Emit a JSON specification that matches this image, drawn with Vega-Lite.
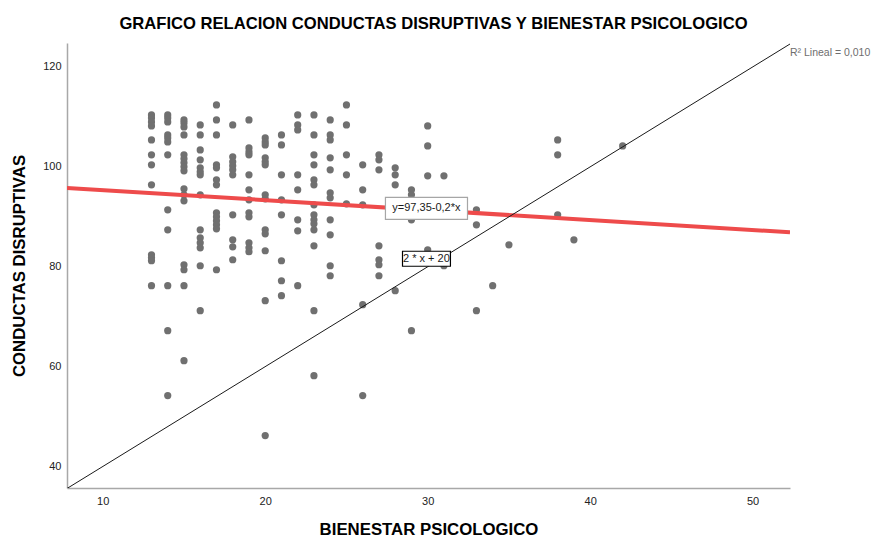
{
  "$schema": "https://vega.github.io/schema/vega-lite/v6.json",
  "autosize": {"type": "none"},
  "padding": {"left": 67, "top": 43, "right": 84, "bottom": 51},
  "width": 723,
  "height": 445,
  "background": "white",
  "config": {
    "view": {"stroke": null},
    "font": "Liberation Sans",
    "axis": {"grid": false, "ticks": false, "domainColor": "#a8a8a8", "domainWidth": 1.5, "labelFont": "Liberation Sans", "labelFontSize": 11, "labelColor": "#222222", "titleFont": "Liberation Sans", "titleFontSize": 16.8, "titleFontWeight": "bold", "titleColor": "#000000"}
  },
  "title": {"text": "GRAFICO RELACION CONDUCTAS DISRUPTIVAS Y BIENESTAR PSICOLOGICO", "font": "Liberation Sans", "fontSize": 16.6, "fontWeight": "bold", "color": "#000000", "anchor": "middle", "offset": 10, "dx": 5},
  "datasets": {
    "puntos": [
      {"x":13,"y":110.4},{"x":13,"y":109.8},{"x":13,"y":109},{"x":13,"y":108.2},{"x":13,"y":105.4},{"x":13,"y":102.4},{"x":13,"y":100.4},{"x":13,"y":96.4},{"x":13,"y":82.4},{"x":13,"y":81.8},{"x":13,"y":81.2},{"x":13,"y":76.2},
      {"x":14,"y":110.4},{"x":14,"y":109.8},{"x":14,"y":109},{"x":14,"y":106.4},{"x":14,"y":105.8},{"x":14,"y":105},{"x":14,"y":102.4},{"x":14,"y":91.4},{"x":14,"y":87.4},{"x":14,"y":76.2},{"x":14,"y":67.2},{"x":14,"y":54.2},
      {"x":15,"y":109.4},{"x":15,"y":108.8},{"x":15,"y":108},{"x":15,"y":106.4},{"x":15,"y":102.4},{"x":15,"y":101.6},{"x":15,"y":100.8},{"x":15,"y":100},{"x":15,"y":99.2},{"x":15,"y":95.6},{"x":15,"y":94.4},{"x":15,"y":93.2},{"x":15,"y":80.4},{"x":15,"y":79.4},{"x":15,"y":76.2},{"x":15,"y":61.2},
      {"x":16,"y":108.4},{"x":16,"y":106.4},{"x":16,"y":103.4},{"x":16,"y":101.4},{"x":16,"y":99.8},{"x":16,"y":99},{"x":16,"y":98.4},{"x":16,"y":94.4},{"x":16,"y":87.4},{"x":16,"y":85.8},{"x":16,"y":84.8},{"x":16,"y":83.8},{"x":16,"y":80.2},{"x":16,"y":71.2},
      {"x":17,"y":112.4},{"x":17,"y":109.4},{"x":17,"y":106.4},{"x":17,"y":100.4},{"x":17,"y":99.8},{"x":17,"y":97.4},{"x":17,"y":96.4},{"x":17,"y":90.8},{"x":17,"y":90},{"x":17,"y":89.2},{"x":17,"y":88.4},{"x":17,"y":87.6},{"x":17,"y":79.4},
      {"x":18,"y":108.4},{"x":18,"y":102},{"x":18,"y":101},{"x":18,"y":100.2},{"x":18,"y":99.4},{"x":18,"y":98.4},{"x":18,"y":90.4},{"x":18,"y":85.4},{"x":18,"y":84},{"x":18,"y":81.4},
      {"x":19,"y":109.4},{"x":19,"y":103.8},{"x":19,"y":103},{"x":19,"y":102.4},{"x":19,"y":98.4},{"x":19,"y":95.4},{"x":19,"y":93.4},{"x":19,"y":90.8},{"x":19,"y":90},{"x":19,"y":84.8},{"x":19,"y":83.8},{"x":19,"y":83},
      {"x":20,"y":105.8},{"x":20,"y":105},{"x":20,"y":104.4},{"x":20,"y":101.8},{"x":20,"y":101},{"x":20,"y":100.4},{"x":20,"y":94.4},{"x":20,"y":93.6},{"x":20,"y":87.4},{"x":20,"y":86.6},{"x":20,"y":83.2},{"x":20,"y":73.2},{"x":20,"y":46.2},
      {"x":21,"y":106.4},{"x":21,"y":104.4},{"x":21,"y":98.4},{"x":21,"y":93.4},{"x":21,"y":90.4},{"x":21,"y":81.2},{"x":21,"y":77.2},{"x":21,"y":74.2},
      {"x":22,"y":110.4},{"x":22,"y":108.4},{"x":22,"y":107.4},{"x":22,"y":98.4},{"x":22,"y":95.4},{"x":22,"y":89.4},{"x":22,"y":87.2},{"x":22,"y":76.2},
      {"x":23,"y":110.4},{"x":23,"y":106.4},{"x":23,"y":102.4},{"x":23,"y":100.4},{"x":23,"y":97.4},{"x":23,"y":96.4},{"x":23,"y":92.4},{"x":23,"y":90.4},{"x":23,"y":89.4},{"x":23,"y":88.6},{"x":23,"y":87.4},{"x":23,"y":84.2},{"x":23,"y":71.2},{"x":23,"y":58.2},
      {"x":24,"y":109.4},{"x":24,"y":106.4},{"x":24,"y":105.4},{"x":24,"y":101.8},{"x":24,"y":99.4},{"x":24,"y":94.8},{"x":24,"y":93.8},{"x":24,"y":89.4},{"x":24,"y":86.4},{"x":24,"y":80.2},{"x":24,"y":78.2},
      {"x":25,"y":112.4},{"x":25,"y":108.4},{"x":25,"y":102.4},{"x":25,"y":98.4},{"x":25,"y":92.6},
      {"x":26,"y":100.4},{"x":26,"y":95.4},{"x":26,"y":92.4},{"x":26,"y":72.4},{"x":26,"y":54.2},
      {"x":27,"y":102.4},{"x":27,"y":101.4},{"x":27,"y":99.4},{"x":27,"y":84.2},{"x":27,"y":81.4},{"x":27,"y":80.4},{"x":27,"y":78.2},
      {"x":28,"y":99.8},{"x":28,"y":98.4},{"x":28,"y":96.4},{"x":28,"y":75.2},
      {"x":29,"y":95.4},{"x":29,"y":94.4},{"x":29,"y":93.4},{"x":29,"y":89.4},{"x":29,"y":67.2},
      {"x":30,"y":108.2},{"x":30,"y":104.2},{"x":30,"y":98.2},{"x":30,"y":83.4},
      {"x":31,"y":98.2},{"x":31,"y":80.2},
      {"x":33,"y":91.4},{"x":33,"y":88.4},{"x":33,"y":71.2},
      {"x":34,"y":76.2},
      {"x":35,"y":84.4},
      {"x":38,"y":105.4},{"x":38,"y":102.4},{"x":38,"y":90.4},
      {"x":39,"y":85.4},
      {"x":42,"y":104.2}
    ],
    "ajuste": [{"x": 7.8, "y": 95.79}, {"x": 52.3, "y": 86.89}],
    "referencia": [{"x": 7.8, "y": 35.6}, {"x": 52.4, "y": 124.8}],
    "etiquetas": [
      {"etiqueta": "y=97,35-0,2*x", "x": 27.4, "x2": 32.45, "y": 93.9, "y2": 89.5, "tx": 29.92, "ty": 91.7},
      {"etiqueta": "2 * x + 20", "x": 28.45, "x2": 31.4, "y": 83.1, "y2": 80.1, "tx": 29.92, "ty": 81.6}
    ],
    "r2": [{"texto": "R² Lineal = 0,010", "x": 52.3, "y": 122.8}]
  },
  "layer": [
    {
      "data": {"name": "puntos"},
      "mark": {"type": "circle", "size": 52, "color": "#707070", "opacity": 1},
      "encoding": {
        "x": {"field": "x", "type": "quantitative", "title": "BIENESTAR PSICOLOGICO", "scale": {"domain": [7.8, 52.3], "nice": false, "zero": false}, "axis": {"values": [10, 20, 30, 40, 50], "labelPadding": 7, "titlePadding": 15}},
        "y": {"field": "y", "type": "quantitative", "title": "CONDUCTAS DISRUPTIVAS", "scale": {"domain": [35.7, 124.8], "nice": false, "zero": false}, "axis": {"values": [40, 60, 80, 100, 120], "labelPadding": 6, "titlePadding": 14}}
      }
    },
    {
      "data": {"name": "ajuste"},
      "mark": {"type": "line", "color": "#ee4b4b", "strokeWidth": 4, "clip": true},
      "encoding": {"x": {"field": "x", "type": "quantitative"}, "y": {"field": "y", "type": "quantitative"}}
    },
    {
      "data": {"name": "referencia"},
      "mark": {"type": "line", "color": "#1a1a1a", "strokeWidth": 1, "clip": true},
      "encoding": {"x": {"field": "x", "type": "quantitative"}, "y": {"field": "y", "type": "quantitative"}}
    },
    {
      "data": {"name": "etiquetas"},
      "mark": {"type": "rect", "fill": "white", "strokeWidth": 1.2},
      "encoding": {
        "x": {"field": "x", "type": "quantitative"}, "x2": {"field": "x2"},
        "y": {"field": "y", "type": "quantitative"}, "y2": {"field": "y2"},
        "stroke": {"field": "etiqueta", "type": "nominal", "scale": {"domain": ["y=97,35-0,2*x", "2 * x + 20"], "range": ["#a6a6a6", "#000000"]}, "legend": null}
      }
    },
    {
      "data": {"name": "etiquetas"},
      "mark": {"type": "text", "fontSize": 11, "color": "#1a1a1a", "align": "center", "baseline": "middle"},
      "encoding": {"x": {"field": "tx", "type": "quantitative"}, "y": {"field": "ty", "type": "quantitative"}, "text": {"field": "etiqueta"}}
    },
    {
      "data": {"name": "r2"},
      "mark": {"type": "text", "fontSize": 10.5, "color": "#6e6e6e", "align": "left", "baseline": "middle", "dx": 0, "clip": false},
      "encoding": {"x": {"field": "x", "type": "quantitative"}, "y": {"field": "y", "type": "quantitative"}, "text": {"field": "texto"}}
    }
  ]
}
